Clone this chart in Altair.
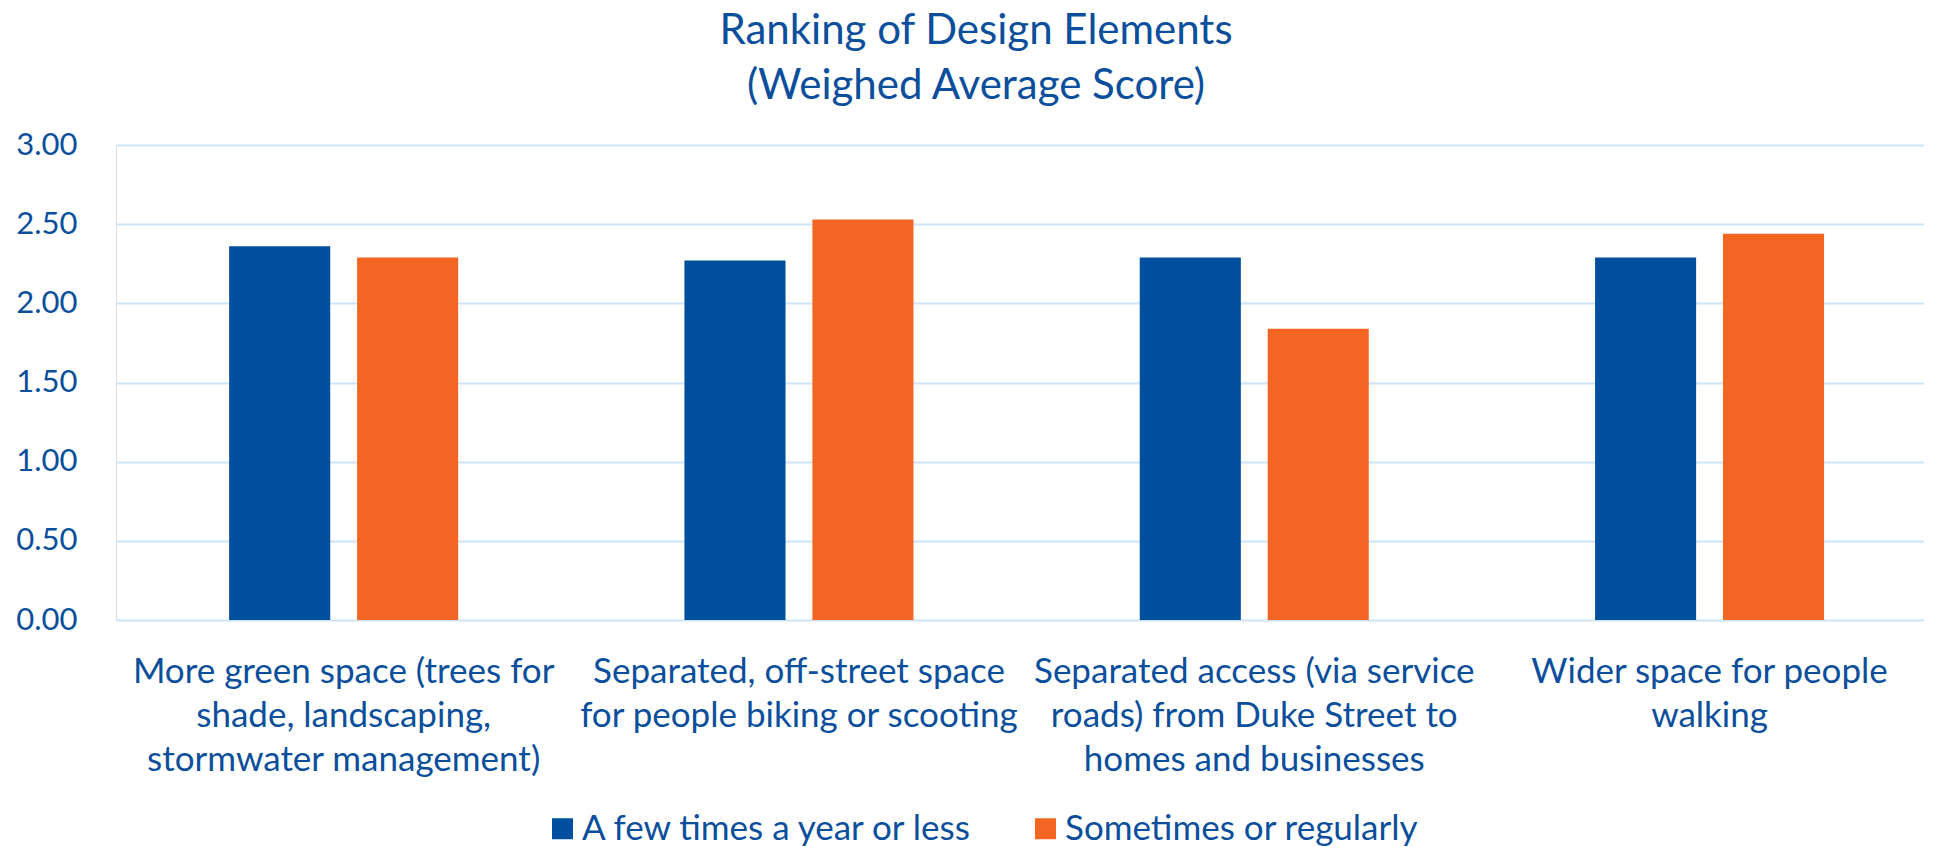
import altair as alt
import pandas as pd

categories = [
    "More green space (trees for|shade, landscaping,|stormwater management)",
    "Separated, off-street space|for people biking or scooting",
    "Separated access (via service|roads) from Duke Street to|homes and businesses",
    "Wider space for people|walking",
]
series = ["A few times a year or less", "Sometimes or regularly"]
few_times = [2.36, 2.27, 2.29, 2.29]
sometimes = [2.29, 2.53, 1.84, 2.44]
y_ticks = [0, 0.5, 1.0, 1.5, 2.0, 2.5, 3.0]

rows = []
for c, a, b in zip(categories, few_times, sometimes):
    rows.append({"category": c, "series": series[0], "value": a})
    rows.append({"category": c, "series": series[1], "value": b})
df = pd.DataFrame(rows)

BLUE_TEXT = "#0B4F9C"
FONT = "Lato"

chart = (
    alt.Chart(df)
    .mark_bar()
    .encode(
        x=alt.X(
            "category:N",
            sort=categories,
            scale=alt.Scale(paddingInner=0.497, paddingOuter=0.234, align=0.531),
            axis=alt.Axis(
                title=None,
                labelAngle=0,
                ticks=False,
                domain=False,
                labelExpr="split(datum.label, '|')",
                labelFontSize=35,
                labelLineHeight=44,
                labelPadding=34,
                labelLimit=0,
                labelColor=BLUE_TEXT,
                labelFont=FONT,
            ),
        ),
        xOffset=alt.XOffset("series:N", sort=series, scale=alt.Scale(paddingInner=0.21)),
        y=alt.Y(
            "value:Q",
            scale=alt.Scale(domain=[0, 3]),
            axis=alt.Axis(
                title=None,
                values=y_ticks,
                format=".2f",
                ticks=False,
                domain=False,
                labelFontSize=31,
                labelColor=BLUE_TEXT,
                labelFont=FONT,
                labelPadding=39,
                gridColor="#CFE4F7",
                gridWidth=2,
            ),
        ),
        color=alt.Color(
            "series:N",
            sort=series,
            scale=alt.Scale(domain=series, range=["#004F9E", "#F26522"]),
            legend=alt.Legend(
                title=None,
                orient="none",
                direction="horizontal",
                legendX=429,
                legendY=666,
                symbolType="square",
                symbolSize=441,
                symbolStrokeWidth=0,
                labelFontSize=35,
                labelFont=FONT,
                labelColor=BLUE_TEXT,
                labelLimit=800,
                columnPadding=53,
                symbolOffset=0,
                labelOffset=2,
            ),
        ),
    )
    .properties(
        width=1808,
        height=475,
        padding={"left": 7, "top": 2, "right": 0, "bottom": 0},
        title=alt.TitleParams(
            text=["Ranking of Design Elements", "(Weighed Average Score)"],
            fontSize=42,
            font=FONT,
            fontWeight="normal",
            color=BLUE_TEXT,
            lineHeight=55,
            anchor="middle",
            dx=-44,
            offset=21,
        ),
    )
    .configure_view(stroke=None)
    .configure(background="white")
)

chart.save("out.html", embed_options={"renderer": "svg", "actions": False})
